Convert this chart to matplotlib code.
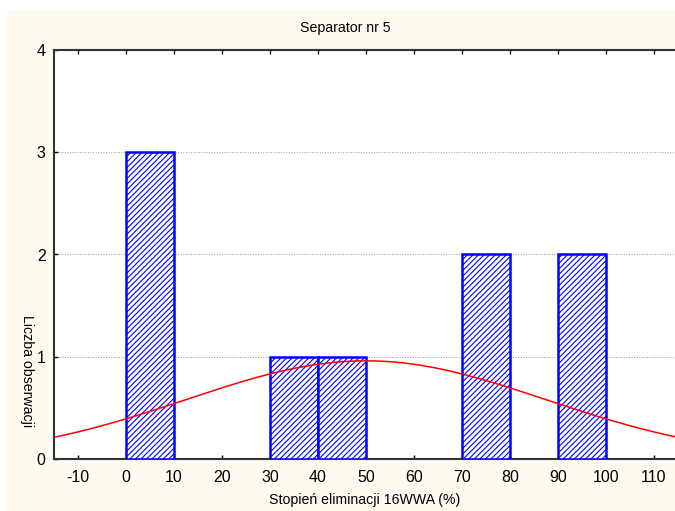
import numpy as np
import matplotlib
matplotlib.use("Agg")
import matplotlib.pyplot as plt
from matplotlib.patches import Rectangle

plt.rcParams['font.family'] = ['Liberation Sans', 'DejaVu Sans']
plt.rcParams['hatch.color'] = '#0000ff'
plt.rcParams['hatch.linewidth'] = 0.8
plt.rcParams['axes.unicode_minus'] = False

bin_left = [0, 30, 40, 70, 90]
bin_width = 10
counts = [3, 1, 1, 2, 2]
n_obs = 9
fit_mean = 50.0
fit_sd = 37.4
x_ticks = [-10, 0, 10, 20, 30, 40, 50, 60, 70, 80, 90, 100, 110]
y_ticks = [0, 1, 2, 3, 4]
title = "Separator nr 5"
xlabel = "Stopień eliminacji 16WWA (%)"
ylabel = "Liczba obserwacji"

fig = plt.figure(figsize=(6.75, 5.11), dpi=100, facecolor='white')
fig.patches.append(Rectangle((7/675, 0), 1 - 7/675, 1 - 10/511, transform=fig.transFigure,
                             facecolor='#fefaf0', edgecolor='none', zorder=-10))
ax = fig.add_axes([54/675, 1 - 459/511, 1 - 54/675, 409/511])
ax.set_facecolor('white')

ax.bar(bin_left, counts, width=bin_width, align='edge', facecolor='white',
       edgecolor='#0000ff', linewidth=1.8, hatch='//////', zorder=3)

xs = np.linspace(-15, 115, 400)
ys = n_obs * bin_width / (fit_sd * np.sqrt(2 * np.pi)) * np.exp(-(xs - fit_mean) ** 2 / (2 * fit_sd ** 2))
ax.plot(xs, ys, color='#ff0000', linewidth=1.1, zorder=4)

ax.set_xlim(-15, 114.4)
ax.set_ylim(0, 4)
ax.set_xticks(x_ticks)
ax.set_yticks(y_ticks)
ax.tick_params(axis='both', direction='in', length=3, width=1, labelsize=11.5, colors='black')
ax.tick_params(axis='x', top=True, pad=8)
ax.tick_params(axis='y', pad=6, length=3)
ax.grid(axis='y', color='#999999', linestyle=':', linewidth=0.7, zorder=0)

for s in ['left', 'bottom', 'top']:
    ax.spines[s].set_linewidth(1.5)
    ax.spines[s].set_color('#333333')
ax.spines['right'].set_visible(False)

fig.text(345/675, 1 - 28/511, title, ha='center', va='center', fontsize=10.2)
fig.text(365/675, 1 - 500/511, xlabel, ha='center', va='center', fontsize=10.2)
fig.text(27/675, 1 - 371/511, ylabel, ha='center', va='center', fontsize=10.2, rotation=270)

fig.savefig('out.png', dpi=100, facecolor=fig.get_facecolor())
